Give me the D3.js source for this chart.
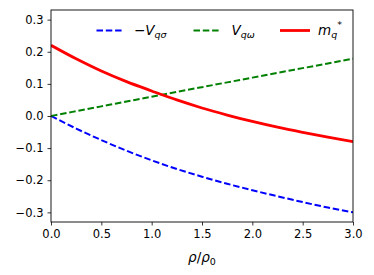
<!DOCTYPE html>
<html><head><meta charset="utf-8">
<script src="https://cdn.jsdelivr.net/npm/d3@7"></script>
<style>
html,body{margin:0;padding:0;background:#fff;}
svg text{font-family:"DejaVu Sans",sans-serif;}
</style></head>
<body><svg id="c" width="374" height="275"></svg>
<script>
const rho = [0,0.25,0.5,0.75,1.0,1.25,1.5,1.75,2.0,2.25,2.5,2.75,3.0];
const negVsigma = [0,-0.039,-0.075,-0.108,-0.138,-0.165,-0.189,-0.211,-0.231,-0.250,-0.268,-0.285,-0.300];
const Vomega = [0,0.0150,0.0300,0.0450,0.0600,0.0749,0.0898,0.1047,0.1195,0.1343,0.1490,0.1637,0.1783];
const mStar = [0.220,0.178,0.140,0.107,0.078,0.050,0.025,0.003,-0.017,-0.035,-0.051,-0.066,-0.080];
const xTicks = [0,0.5,1.0,1.5,2.0,2.5,3.0];
const yTicks = [-0.3,-0.2,-0.1,0.0,0.1,0.2,0.3];

const svg = d3.select("#c");
const L=51, R=353, T=10, B=222;
const x = d3.scaleLinear().domain([0,3]).range([L,R]);
const y = d3.scaleLinear().domain([-0.33,0.33]).range([B,T]);

svg.append("defs").append("clipPath").attr("id","clip")
  .append("rect").attr("x",L).attr("y",T).attr("width",R-L).attr("height",B-T);

const series = [
  {vals:negVsigma, color:"#0000ff", w:2, dash:"6.5,2.8"},
  {vals:Vomega, color:"#008000", w:2, dash:"6.5,2.8"},
  {vals:mStar, color:"#ff0000", w:2.8, dash:null}
];
const line = d3.line().x((d,i)=>x(rho[i])).y(d=>y(d)).curve(d3.curveMonotoneX);
const g = svg.append("g").attr("clip-path","url(#clip)");
series.forEach(s=>{
  g.append("path").datum(s.vals).attr("d",line)
   .attr("fill","none").attr("stroke",s.color).attr("stroke-width",s.w)
   .attr("stroke-dasharray",s.dash);
});

const xAxis = d3.axisBottom(x).tickValues(xTicks).tickFormat(d3.format(".1f")).tickSize(3.5).tickPadding(4);
const yAxis = d3.axisLeft(y).tickValues(yTicks).tickFormat(d3.format(".1f")).tickSize(3.5).tickPadding(4);
const gx = svg.append("g").attr("transform",`translate(0,${B})`).call(xAxis);
const gy = svg.append("g").attr("transform",`translate(${L},0)`).call(yAxis);
[gx,gy].forEach(a=>{
  a.select(".domain").remove();
  a.selectAll("text").attr("font-size","11.5px").attr("fill","#000").style("font-family","DejaVu Sans");
  a.selectAll("line").attr("stroke","#000").attr("stroke-width",0.8);
});
svg.append("rect").attr("x",L).attr("y",T).attr("width",R-L).attr("height",B-T)
  .attr("fill","none").attr("stroke","#000").attr("stroke-width",0.9);

// x label
const xl = svg.append("text").attr("x",(L+R)/2).attr("y",262).attr("text-anchor","middle")
  .attr("font-size","13.5px").attr("fill","#000");
xl.append("tspan").attr("font-style","italic").text("ρ");
xl.append("tspan").text("/");
xl.append("tspan").attr("font-style","italic").text("ρ");
xl.append("tspan").attr("font-size","9.5px").attr("dy",3).text("0");

// legend
const leg = svg.append("g");
const ly = 30.5;
const items = [
  {x0:96.5, x1:123.5, tx:134, color:"#0000ff", w:2, dash:"6.5,2.8", label:"negVsigma"},
  {x0:193.5, x1:220.5, tx:231.5, color:"#008000", w:2, dash:"6.5,2.8", label:"Vomega"},
  {x0:280, x1:310, tx:318, color:"#ff0000", w:2.8, dash:null, label:"mStar"}
];
items.forEach(it=>{
  leg.append("line").attr("x1",it.x0).attr("x2",it.x1).attr("y1",ly).attr("y2",ly)
    .attr("stroke",it.color).attr("stroke-width",it.w).attr("stroke-dasharray",it.dash);
  const t = leg.append("text").attr("x",it.tx).attr("y",ly+4.5).attr("font-size","13.5px").attr("fill","#000");
  if(it.label==="negVsigma"){
    t.append("tspan").text("−");
    t.append("tspan").attr("font-style","italic").text("V");
    t.append("tspan").attr("font-style","italic").attr("font-size","9.5px").attr("dy",3).text("qσ");
  } else if(it.label==="Vomega"){
    t.append("tspan").attr("font-style","italic").text("V");
    t.append("tspan").attr("font-style","italic").attr("font-size","9.5px").attr("dy",3).text("qω");
  } else {
    t.append("tspan").attr("font-style","italic").text("m");
    t.append("tspan").attr("font-style","italic").attr("font-size","9.5px").attr("dy",3).text("q");
    t.append("tspan").attr("font-size","9.5px").attr("dx",0).attr("dy",-10).text("*");
  }
});
</script></body></html>
